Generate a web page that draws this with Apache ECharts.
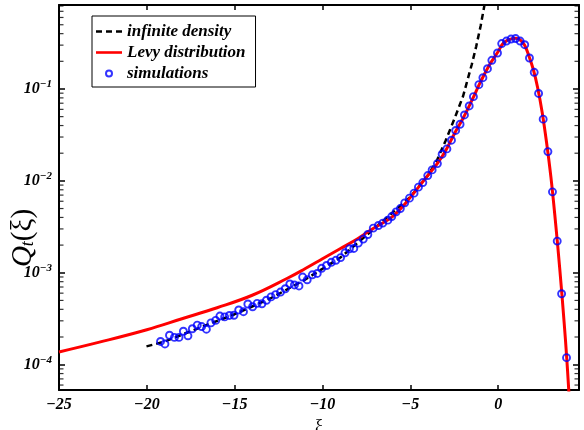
<!DOCTYPE html>
<html><head><meta charset="utf-8">
<script src="https://cdn.jsdelivr.net/npm/echarts@6/dist/echarts.min.js"></script>
<style>html,body{margin:0;padding:0;background:#fff}#c{width:584px;height:430px}</style>
</head><body><div id="c"></div>
<script>
// ---- data ----
const xTicks = [-25, -20, -15, -10, -5, 0];
const yMinorTicks = [6e-5,7e-5,8e-5,9e-5, 2e-4,3e-4,4e-4,5e-4,6e-4,7e-4,8e-4,9e-4,
  2e-3,3e-3,4e-3,5e-3,6e-3,7e-3,8e-3,9e-3, 2e-2,3e-2,4e-2,5e-2,6e-2,7e-2,8e-2,9e-2,
  0.2,0.3,0.4,0.5,0.6,0.7,0.8];
const simX = [-19.22,-18.97,-18.71,-18.43,-18.17,-17.92,-17.66,-17.41,-17.13,-16.88,
  -16.61,-16.35,-16.08,-15.84,-15.57,-15.30,-15.04,-14.77,-14.50,-14.25,
  -13.98,-13.72,-13.45,-13.19,-12.93,-12.67,-12.39,-12.12,-11.86,-11.60,
  -11.34,-11.13,-10.87,-10.58,-10.30,-10.05,-9.77,-9.50,-9.24,-8.97,
  -8.72,-8.47,-8.22,-7.96,-7.68,-7.42,-7.11,-6.82,-6.57,-6.28,
  -6.06,-5.81,-5.57,-5.32,-5.05,-4.79,-4.54,-4.29,-4.01,-3.76,
  -3.46,-3.19,-2.92,-2.66,-2.42,-2.17,-1.92,-1.65,-1.41,-1.10,
  -0.87,-0.61,-0.36,-0.04,0.20,0.47,0.73,0.99,1.25,1.51,
  1.78,2.05,2.30,2.56,2.83,3.09,3.36,3.61,3.89];
const simY = [1.79e-4,1.68e-4,2.09e-4,1.98e-4,1.98e-4,2.31e-4,2.06e-4,2.46e-4,2.69e-4,2.60e-4,
  2.43e-4,2.85e-4,3.03e-4,3.38e-4,3.31e-4,3.43e-4,3.45e-4,3.94e-4,3.77e-4,4.57e-4,
  4.27e-4,4.64e-4,4.60e-4,5.02e-4,5.46e-4,5.79e-4,6.17e-4,6.70e-4,7.56e-4,7.37e-4,
  7.19e-4,8.98e-4,8.39e-4,9.51e-4,9.83e-4,1.119e-3,1.20e-3,1.30e-3,1.367e-3,1.463e-3,
  1.65e-3,1.824e-3,1.838e-3,2.103e-3,2.324e-3,2.608e-3,3.061e-3,3.267e-3,3.469e-3,3.739e-3,
  4.093e-3,4.603e-3,5.0e-3,5.767e-3,6.486e-3,7.35e-3,8.541e-3,9.583e-3,1.142e-2,1.317e-2,
  1.542e-2,1.951e-2,2.228e-2,2.77e-2,3.539e-2,4.133e-2,5.217e-2,6.535e-2,8.249e-2,0.1114,
  0.1327,0.1662,0.2051,0.2462,0.3123,0.3324,0.3496,0.3539,0.3324,0.3031,
  0.2173,0.1519,0.08935,0.04694,0.02082,0.007592,0.002211,0.000591,0.0001192];
const levyX = [-25,-22.7,-20,-18,-16,-14,-12,-11,-10,-9,-8,-7.5,-7,-6.5,-6,-5.5,-5,-4.5,-4,-3.5,-3,
  -2.5,-2,-1.5,-1,-0.5,0,0.25,0.5,0.75,1,1.25,1.5,1.75,2,2.25,2.5,2.75,3,3.25,3.5,3.75,3.9,4.05];
const levyY = [1.374e-4,1.757e-4,2.401e-4,3.162e-4,4.164e-4,5.693e-4,8.715e-4,1.105e-3,1.42e-3,1.824e-3,
  2.342e-3,2.721e-3,3.124e-3,3.539e-3,4.112e-3,5.087e-3,6.617e-3,8.714e-3,1.148e-2,1.511e-2,2.119e-2,
  3.243e-2,4.801e-2,7.499e-2,0.12,0.1824,0.2556,0.3084,0.3366,0.3513,0.3557,
  0.3408,0.3008,0.2284,0.1629,0.1025,0.05623,0.02653,0.01105,3.768e-3,1.133e-3,2.934e-4,1.192e-4,4.165e-5];
const infX = [-20.02,-19,-17,-15,-13,-11,-9,-7,-5,-4,-3.5,-3,-2.5,-2,-1.5,-1.25,-1,-0.75];
const infY = [1.581e-4,1.778e-4,2.524e-4,3.539e-4,5.218e-4,8.394e-4,1.455e-3,3.085e-3,6.7e-3,1.148e-2,
  1.65e-2,2.72e-2,4.683e-2,8.33e-2,0.186,0.2911,0.484,0.882];
const seriesNames = ['infinite density', 'Levy distribution', 'simulations'];

// ---- chart ----
const FONT = '"Liberation Serif","Times New Roman",serif';
const zip = (a, b) => a.map((v, i) => [v, b[i]]);
const chart = echarts.init(document.getElementById('c'), null, {renderer: 'canvas'});
const labStyle = {fontFamily: FONT, fontWeight: 'bold', fontStyle: 'italic', color: '#000'};
const axisLine = {show: true, onZero: false, lineStyle: {color: '#000', width: 2}};
const xMin = -25, xMax = 4.6, yMin = 5.3e-5, yMax = 0.82;
function xAx(pos, labels) {
  return {type: 'value', position: pos, min: xMin, max: xMax, interval: 5,
    axisLine: axisLine,
    axisTick: {show: true, inside: true, length: 5, lineStyle: {color: '#000', width: 1.5},
      customValues: xTicks},
    splitLine: {show: false},
    axisLabel: {show: labels, margin: 7, customValues: xTicks,
      formatter: v => v < 0 ? '\u2212' + (-v) : '' + v, ...labStyle, fontSize: 16}};
}
function yAx(pos, labels) {
  return {type: 'log', logBase: 10, position: pos, min: yMin, max: yMax,
    axisLine: axisLine,
    axisTick: {show: true, inside: true, length: 6, lineStyle: {color: '#000', width: 1.5}},
    splitLine: {show: false},
    axisLabel: {show: labels, margin: 7, showMinLabel: false, showMaxLabel: false,
      formatter: v => '{b|10}{s|\u2212' + Math.round(-Math.log10(v)) + '}',
      rich: {b: {...labStyle, fontSize: 16}, s: {...labStyle, fontSize: 11, padding: [0, 0, 10, 0]}}}};
}
function minorTickSeries(xv, off) {
  return {name: 'minor' + off, type: 'scatter', silent: true, clip: false, z: 6,
    data: yMinorTicks.map(v => [xv, v]), symbol: 'rect', symbolSize: [4.5, 1.2],
    symbolOffset: [off, 0], itemStyle: {color: '#000', borderWidth: 0}};
}
chart.setOption({
  animation: false,
  backgroundColor: '#fff',
  grid: {left: 59, right: 5, top: 5, bottom: 40, containLabel: false, outerBoundsMode: 'none'},
  xAxis: [Object.assign(xAx('bottom', true), {name: '\u03BE', nameLocation: 'middle', nameGap: 20,
            nameTextStyle: {fontFamily: FONT, fontSize: 18, color: '#000'}}),
          xAx('top', false)],
  yAxis: [yAx('left', true), yAx('right', false)],
  graphic: [{type: 'text', x: 23, y: 238, rotation: Math.PI / 2,
    style: {text: '{q|Q}{t|t}{p|(\u03BE)}', align: 'center', verticalAlign: 'middle',
      rich: {
        q: {fontFamily: FONT, fontStyle: 'italic', fontSize: 29, color: '#000'},
        t: {fontFamily: FONT, fontStyle: 'italic', fontSize: 18, color: '#000', padding: [11, 0, 0, 0]},
        p: {fontFamily: FONT, fontSize: 29, color: '#000'}}}}],
  legend: {orient: 'vertical', left: 92, top: 16, itemWidth: 26, itemHeight: 6, itemGap: 4,
    padding: [7, 10, 5, 4], borderColor: '#000', borderWidth: 1, backgroundColor: '#fff',
    textStyle: {...labStyle, fontSize: 17, lineHeight: 17},
    data: [{name: seriesNames[0], icon: 'path://M0,0H6V2.5H0Z M10,0H16V2.5H10Z M20,0H26V2.5H20Z'},
           {name: seriesNames[1], icon: 'path://M0,0H26V2.6H0Z'},
           {name: seriesNames[2], icon: 'circle'}]},
  series: [
    minorTickSeries(xMin, 2.25),
    minorTickSeries(xMax, -2.25),
    {name: seriesNames[0], type: 'line', data: zip(infX, infY), symbol: 'none', z: 2,
     lineStyle: {color: '#000', width: 2.5, type: [6, 4]}, itemStyle: {color: '#000'}},
    {name: seriesNames[1], type: 'line', data: zip(levyX, levyY), symbol: 'none', smooth: 0.4, z: 3,
     lineStyle: {color: '#ff0000', width: 3}, itemStyle: {color: '#ff0000'}},
    {name: seriesNames[2], type: 'scatter', data: zip(simX, simY), symbol: 'circle', symbolSize: 7, z: 4,
     itemStyle: {color: 'rgba(255,255,255,0)', borderColor: '#0000ff', borderWidth: 1.9}}
  ]
});
</script></body></html>
